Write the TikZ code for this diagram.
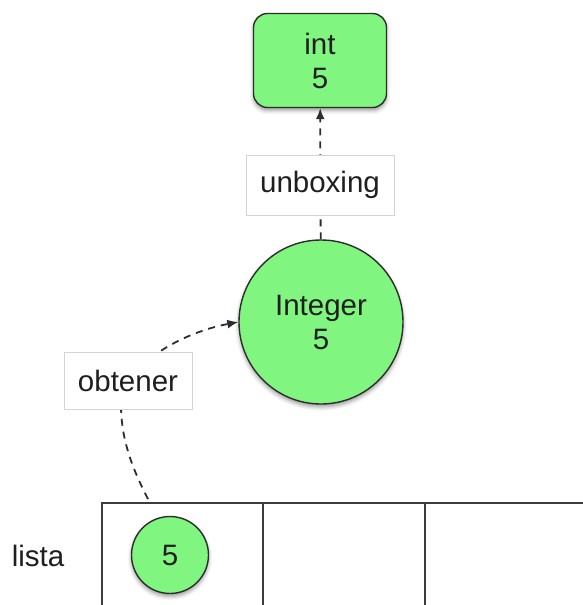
\documentclass[tikz,border=0pt]{standalone}
\usepackage{fontspec}
\setmainfont{Liberation Sans}
\usetikzlibrary{arrows.meta,shadows.blur}

\definecolor{boxgreen}{RGB}{128,246,128}
\definecolor{edge}{RGB}{45,45,45}
\definecolor{lblframe}{RGB}{212,212,212}
\definecolor{gridline}{RGB}{60,60,60}

\tikzset{
  txt/.style={font=\fontsize{29.5}{34}\selectfont, text=black!88, align=center, inner sep=0pt},
  valuebox/.style={txt, draw=edge, line width=1.4pt, fill=boxgreen,
    blur shadow={shadow xshift=0pt, shadow yshift=-3pt, shadow blur radius=4pt, shadow opacity=40}},
  lbl/.style={txt, draw=lblframe, line width=0.8pt, fill=white},
  conn/.style={draw=edge, line width=1.8pt, dash pattern=on 7pt off 6pt,
    -{Latex[length=11pt,width=9pt]}},
  grid/.style={draw=gridline, line width=1.8pt}
}

\begin{document}
\begin{tikzpicture}[x=1pt, y=-1pt]
  \useasboundingbox (0,0) rectangle (583,605);

  % list cells
  \draw[grid] (102,605) |- (583,503);
  \draw[grid] (263,503) -- (263,605);
  \draw[grid] (425,503) -- (425,605);

  % values
  \node[valuebox, rectangle, rounded corners=14pt, minimum width=133pt, minimum height=94pt]
    (int) at (320,60.5) {int\\5};
  \node[valuebox, circle, minimum size=164pt] (integer) at (321,322) {Integer\\5};
  \node[valuebox, circle, minimum size=77pt] (elem) at (170,555) {5};
  \node[txt] (lista) at (38,556) {lista};
  \coordinate (start) at (148,499);
  \coordinate (bend) at (121,405);

  % operations
  \draw[conn] (integer) -- (int);
  \draw[conn] (start) .. controls (133,470) and (121,440) .. (bend)
                      .. controls (121,370) and (175,334) .. (integer.west);

  \node[lbl, minimum width=148pt, minimum height=60pt] (unboxing) at (320,185) {unboxing};
  \node[lbl, minimum width=128pt, minimum height=57pt] (obtener) at (128,380.5) {obtener};
\end{tikzpicture}
\end{document}
